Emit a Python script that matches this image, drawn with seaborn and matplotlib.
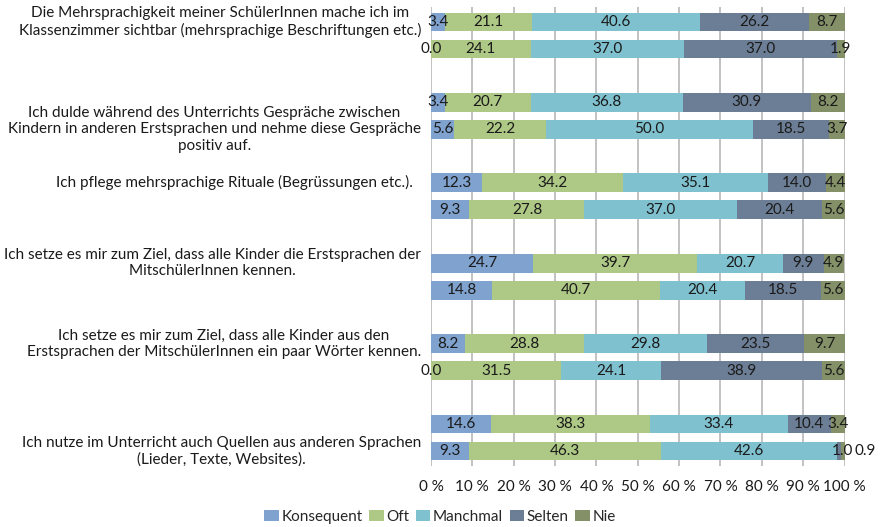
import matplotlib
matplotlib.use("Agg")
import matplotlib.pyplot as plt
import matplotlib.transforms as mtransforms
from matplotlib.patches import Patch
import numpy as np
import pandas as pd
import seaborn as sns

# ---------------- data ----------------
statements = [
    "Die Mehrsprachigkeit meiner SchülerInnen mache ich im\nKlassenzimmer sichtbar (mehrsprachige Beschriftungen etc.)",
    "Ich dulde während des Unterrichts Gespräche zwischen\nKindern in anderen Erstsprachen und nehme diese Gespräche\npositiv auf.",
    "Ich pflege mehrsprachige Rituale (Begrüssungen etc.).",
    "Ich setze es mir zum Ziel, dass alle Kinder die Erstsprachen der\nMitschülerInnen kennen.",
    "Ich setze es mir zum Ziel, dass alle Kinder aus den\nErstsprachen der MitschülerInnen ein paar Wörter kennen.",
    "Ich nutze im Unterricht auch Quellen aus anderen Sprachen\n(Lieder, Texte, Websites).",
]
categories = ["Konsequent", "Oft", "Manchmal", "Selten", "Nie"]

# upper bar of each statement
konsequent_a = [3.4, 3.4, 12.3, 24.7, 8.2, 14.6]
oft_a        = [21.1, 20.7, 34.2, 39.7, 28.8, 38.3]
manchmal_a   = [40.6, 36.8, 35.1, 20.7, 29.8, 33.4]
selten_a     = [26.2, 30.9, 14.0, 9.9, 23.5, 10.4]
nie_a        = [8.7, 8.2, 4.4, 4.9, 9.7, 3.4]

# lower bar of each statement
konsequent_b = [0.0, 5.6, 9.3, 14.8, 0.0, 9.3]
oft_b        = [24.1, 22.2, 27.8, 40.7, 31.5, 46.3]
manchmal_b   = [37.0, 50.0, 37.0, 20.4, 24.1, 42.6]
selten_b     = [37.0, 18.5, 20.4, 18.5, 38.9, 1.0]
nie_b        = [1.9, 3.7, 5.6, 5.6, 5.6, 0.9]

xticks = [0, 10, 20, 30, 40, 50, 60, 70, 80, 90, 100]

# ---------------- layout / style ----------------
colors = ["#7FA2CE", "#AEC886", "#7FC1CF", "#6C7E95", "#849168"]
pair_offset = 0.168
bar_height = 0.236
label_bar = [0, 1, 0, 0, 0, 1]   # which bar of the pair the statement label lines up with
label_dx = [0, 0, -8, 0, 0, 0]    # extra horizontal shift (px) of statement labels

FONT = ["Lato", "DejaVu Sans"]
FS = 11
sns.set_theme(style="white")
plt.rcParams["font.family"] = FONT
plt.rcParams["font.size"] = FS

rows = []
series_a = [konsequent_a, oft_a, manchmal_a, selten_a, nie_a]
series_b = [konsequent_b, oft_b, manchmal_b, selten_b, nie_b]
for i in range(len(statements)):
    for j, series in enumerate((series_a, series_b)):
        y = i + (-pair_offset if j == 0 else pair_offset)
        for k, cat in enumerate(categories):
            rows.append(dict(stmt=i, bar=j, y=y, cat=cat, k=k, value=series[k][i]))
df = pd.DataFrame(rows)
df = df.sort_values(["stmt", "bar", "k"])
df["cum"] = df.groupby(["stmt", "bar"])["value"].cumsum()
df["start"] = df["cum"] - df["value"]

AX_L, AX_R, AX_T, AX_B = 431, 844.5, 7, 466
fig = plt.figure(figsize=(8.8, 5.27), dpi=100)
ax = fig.add_axes([AX_L / 880, 1 - AX_B / 527, (AX_R - AX_L) / 880, (AX_B - AX_T) / 527])

# stacked bars: draw cumulative totals from last category to first
for k in reversed(range(len(categories))):
    sub = df[df["k"] == k]
    sns.barplot(data=sub, x="cum", y="y", orient="y", native_scale=True,
                color=colors[k], saturation=1, errorbar=None,
                width=bar_height / (2 * pair_offset), ax=ax, linewidth=0, zorder=3)

ax.set_xlim(0, 100)
ax.set_ylim(5 + (AX_B - 437.5) / 80.4, -(35.5 - AX_T) / 80.4)
ax.set_xticks(xticks)
ax.set_xticklabels([f"{t} %" for t in xticks])
ax.set_yticks([])
ax.set_xlabel("")
ax.set_ylabel("")
ax.tick_params(axis="x", length=0, pad=10, labelsize=FS, colors="#1a1a1a")
for s in ax.spines.values():
    s.set_visible(False)
ax.grid(axis="x", color="#BDBDBD", linewidth=1.3, zorder=0)
ax.set_axisbelow(True)

# data labels
px = (AX_R - AX_L) / 100.0
for _, r in df.iterrows():
    xc = r["start"] + r["value"] / 2
    ha = "center"
    if r["k"] == len(categories) - 1 and r["value"] < 1.5:
        xc = 100 + 9.5 / px
        ha = "left"
    elif r["k"] == len(categories) - 2 and r["value"] < 1.5:
        xc += 3 / px
    ax.text(xc, r["y"], f"{r['value']:.1f}", ha=ha, va="center",
            fontsize=FS, color="#1a1a1a", zorder=5, clip_on=False)

# statement labels
trans = mtransforms.blended_transform_factory(ax.transAxes, ax.transData)
for i, txt in enumerate(statements):
    y = i + (-pair_offset if label_bar[i] == 0 else pair_offset)
    ax.text((-10 + label_dx[i]) / (AX_R - AX_L), y, txt, transform=trans, ha="right", va="center",
            multialignment="center", fontsize=FS, color="#1a1a1a", linespacing=1.2)

handles = [Patch(facecolor=c, edgecolor="none") for c in colors]
fig.legend(handles, categories, loc="center", bbox_to_anchor=(0.5, 1 - 517 / 527),
           ncol=5, frameon=False, handlelength=0.95, handleheight=0.75,
           handletextpad=0.15, columnspacing=0.45, fontsize=FS)

fig.savefig("out.png", dpi=100)
